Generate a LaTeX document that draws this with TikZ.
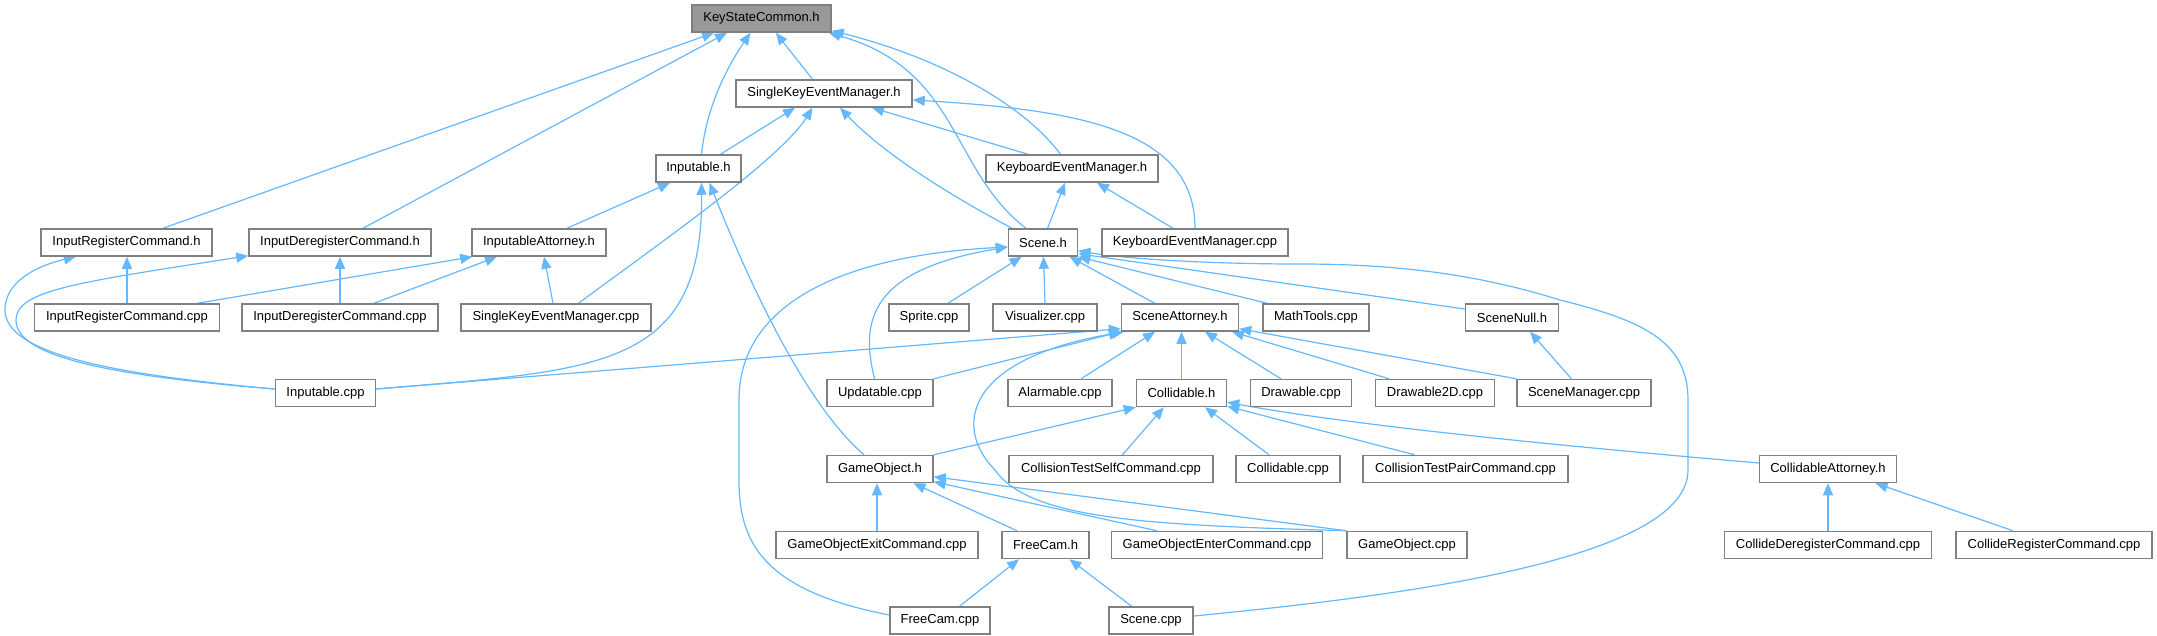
\documentclass[tikz,border=0pt]{standalone}
\usepackage{fontspec}
\newfontfamily\nf{Liberation Sans}
\usetikzlibrary{arrows.meta}
\pgfdeclarelayer{bg}
\pgfsetlayers{bg,main}
\definecolor{edgec}{HTML}{63B8FF}
\definecolor{boxc}{HTML}{808080}
\definecolor{rootc}{HTML}{999999}
\begin{document}
\begin{tikzpicture}[x=1pt,y=-1pt,
 box/.style={draw=boxc,line width=1.5pt,fill=white,minimum height=27pt,inner sep=0pt,font=\nf\fontsize{13}{13}\selectfont,text=black},
 root/.style={box,fill=rootc},
 e/.style={draw=edgec,line width=1.2pt,-{Triangle[length=12pt,width=10pt]}}]
\useasboundingbox (0,0) rectangle (2157,635);
% row 1
\node[root,minimum width=139pt] (ksc) at (761.5,18.5) {KeyStateCommon.h};
% row 2
\node[box,minimum width=176pt] (skemh) at (824,93.5) {SingleKeyEventManager.h};
% row 3
\node[box,minimum width=85pt] (inph) at (698.5,168.5) {Inputable.h};
\node[box,minimum width=172pt] (kemh) at (1072,168.5) {KeyboardEventManager.h};
% row 4
\node[box,minimum width=171pt] (irch) at (126.5,242.5) {InputRegisterCommand.h};
\node[box,minimum width=182pt] (idch) at (340,242.5) {InputDeregisterCommand.h};
\node[box,minimum width=134pt] (iah) at (539,242.5) {InputableAttorney.h};
\node[box,minimum width=69pt] (sceneh) at (1043,242.5) {Scene.h};
\node[box,minimum width=186pt] (kemcpp) at (1195,242.5) {KeyboardEventManager.cpp};
% row 5
\node[box,minimum width=185pt] (irccpp) at (127,317.5) {InputRegisterCommand.cpp};
\node[box,minimum width=196pt] (idccpp) at (340,317.5) {InputDeregisterCommand.cpp};
\node[box,minimum width=190pt] (skemcpp) at (556,317.5) {SingleKeyEventManager.cpp};
\node[box,minimum width=80pt] (sprite) at (929,317.5) {Sprite.cpp};
\node[box,minimum width=104pt] (visual) at (1045,317.5) {Visualizer.cpp};
\node[box,minimum width=117pt] (sah) at (1180,317.5) {SceneAttorney.h};
\node[box,minimum width=106pt] (math) at (1316,317.5) {MathTools.cpp};
\node[box,minimum width=93pt] (snull) at (1512,317.5) {SceneNull.h};
% row 6
\node[box,minimum width=100pt] (inpcpp) at (325.5,393) {Inputable.cpp};
\node[box,minimum width=106pt] (upd) at (880,393) {Updatable.cpp};
\node[box,minimum width=104pt] (alarm) at (1060,393) {Alarmable.cpp};
\node[box,minimum width=90pt] (collh) at (1181.5,393) {Collidable.h};
\node[box,minimum width=101pt] (draw) at (1301,393) {Drawable.cpp};
\node[box,minimum width=119pt] (draw2d) at (1435,393) {Drawable2D.cpp};
\node[box,minimum width=134pt] (scmgr) at (1584,393) {SceneManager.cpp};
% row 7
\node[box,minimum width=106pt] (goh) at (880,469) {GameObject.h};
\node[box,minimum width=204pt] (ctself) at (1111,469) {CollisionTestSelfCommand.cpp};
\node[box,minimum width=104pt] (collcpp) at (1288,469) {Collidable.cpp};
\node[box,minimum width=205pt] (ctpair) at (1465.5,469) {CollisionTestPairCommand.cpp};
\node[box,minimum width=137pt] (colla) at (1828,469) {CollidableAttorney.h};
% row 8
\node[box,minimum width=202pt] (goexit) at (877,545) {GameObjectExitCommand.cpp};
\node[box,minimum width=87pt] (fch) at (1045.5,545) {FreeCam.h};
\node[box,minimum width=211pt] (goenter) at (1217,545) {GameObjectEnterCommand.cpp};
\node[box,minimum width=120pt] (gocpp) at (1407,545) {GameObject.cpp};
\node[box,minimum width=207pt] (cdereg) at (1828,545) {CollideDeregisterCommand.cpp};
\node[box,minimum width=196pt] (creg) at (2054,545) {CollideRegisterCommand.cpp};
% row 9
\node[box,minimum width=100pt] (fccpp) at (940,620.5) {FreeCam.cpp};
\node[box,minimum width=84pt] (scenecpp) at (1151,620.5) {Scene.cpp};

\begin{pgfonlayer}{bg}
% KeyStateCommon.h
\draw[e] ([xshift=36.5]irch.north) -- ([xshift=-47.5]ksc.south);
\draw[e] ([xshift=23]idch.north) -- ([xshift=-34.5]ksc.south);
\draw[e] ([xshift=3]inph.north) .. controls (706,110) and (725,70) .. ([xshift=-11]ksc.south);
\draw[e] ([xshift=-11.5]skemh.north) -- ([xshift=14.3]ksc.south);
\draw[e] ([xshift=-17]sceneh.north) .. controls (950,170) and (960,70) .. ([xshift=-3]ksc.south east);
\draw[e] ([xshift=-11.5]kemh.north) .. controls (1020,100) and (930,55) .. ([yshift=2]ksc.south east);
% SingleKeyEventManager.h
\draw[e] ([xshift=22]inph.north) -- ([xshift=-29]skemh.south);
\draw[e] ([xshift=22.6]skemcpp.north) .. controls (650,250) and (780,160) .. ([xshift=-11.5]skemh.south);
\draw[e] ([xshift=-31]sceneh.north) .. controls (940,190) and (880,150) .. ([xshift=16]skemh.south);
\draw[e] ([xshift=-44]kemh.north) -- ([xshift=48]skemh.south);
\draw[e] (kemcpp.north) .. controls (1195,130) and (1080,110) .. ([yshift=-6.5]skemh.east);
% Inputable.h
\draw[e] ([xshift=28]iah.north) -- ([xshift=-28.5]inph.south);
\draw[e] ([yshift=4]inpcpp.east) .. controls (600,370) and (703,370) .. ([xshift=3]inph.south);
\draw[e] ([xshift=-16]goh.north) .. controls (800,400) and (740,260) .. ([xshift=11]inph.south);
% InputRegisterCommand.h
\draw[e] (irccpp.north) -- (irccpp.north |- irch.south);
\draw[e] ([yshift=4]inpcpp.west) .. controls (120,375) and (5,355) .. (5,310) .. controls (5,280) and (40,265) .. ([xshift=-50.7]irch.south);
% InputDeregisterCommand.h
\draw[e] (idccpp.north) -- (idccpp.north |- idch.south);
\draw[e] ([yshift=4]inpcpp.west) .. controls (100,375) and (16,355) .. (16,320) .. controls (16,290) and (80,282) .. ([yshift=1]idch.south west);
% InputableAttorney.h
\draw[e] ([xshift=70.5]irccpp.north) -- ([xshift=1]iah.south west);
\draw[e] ([xshift=34]idccpp.north) -- ([xshift=-42]iah.south);
\draw[e] ([xshift=-3]skemcpp.north) -- ([xshift=5]iah.south);
% KeyboardEventManager.h
\draw[e] ([xshift=4.6]sceneh.north) -- ([xshift=-7]kemh.south);
\draw[e] ([xshift=-22]kemcpp.north) -- ([xshift=25]kemh.south);
% Scene.h
\draw[e] ([xshift=19]sprite.north) -- ([xshift=-21.5]sceneh.south);
\draw[e] (visual.north) -- ([xshift=0.5]sceneh.south);
\draw[e] ([xshift=-25.4]sah.north) -- ([xshift=26.7]sceneh.south);
\draw[e] ([xshift=-49]math.north) -- (sceneh.south east);
\draw[e] ([yshift=8.5]snull.west) -- ([yshift=3]sceneh.south east);
\draw[e] ([yshift=4.5]scenecpp.east) .. controls (1400,596) and (1688,560) .. (1688,470) -- (1688,400) .. controls (1688,340) and (1640,320) .. (1560,300) .. controls (1480,275) and (1400,264) .. (1300,264) .. controls (1200,264) and (1120,258) .. ([yshift=6]sceneh.south east);
\draw[e] ([yshift=5.5]fccpp.west) .. controls (760,590) and (739,540) .. (739,480) -- (739,400) .. controls (739,300) and (850,255) .. ([yshift=-4.5]sceneh.west);
\draw[e] ([xshift=-5.5]upd.north) .. controls (860,320) and (870,270) .. ([yshift=-4.5]sceneh.west);
% SceneAttorney.h
\draw[e] ([yshift=4]inpcpp.east) -- ([yshift=3]sah.south west);
\draw[e] (upd.north east) -- (sah.south west);
\draw[e] ([xshift=21]alarm.north) -- ([xshift=-25]sah.south);
\draw[e] (collh.north) -- (collh.north |- sah.south);
\draw[e] ([xshift=-20]draw.north) -- ([xshift=25]sah.south);
\draw[e] ([xshift=-46]draw2d.north) -- ([xshift=52]sah.south);
\draw[e] (scmgr.north west) -- ([yshift=3]sah.south east);
\draw[e] (gocpp.north west) .. controls (1150,525) and (1030,520) .. (995,470) .. controls (955,430) and (960,360) .. ([xshift=3]sah.south west);
% GameObject.h
\draw[e] (goexit.north) -- (goexit.north |- goh.south);
\draw[e] ([xshift=-28.5]fch.north) -- ([xshift=33.5]goh.south);
\draw[e] ([xshift=-60]goenter.north) -- ([yshift=1.5]goh.south east);
\draw[e] (gocpp.north west) -- ([yshift=6.5]goh.south east);
% Collidable.h
\draw[e] (goh.north east) -- (collh.south west);
\draw[e] ([xshift=11.5]ctself.north) -- ([xshift=-17.7]collh.south);
\draw[e] ([xshift=-19]collcpp.north) -- ([xshift=23.5]collh.south);
\draw[e] ([xshift=-51]ctpair.north) -- ([yshift=1]collh.south east);
\draw[e] ([yshift=6]colla.west) .. controls (1550,445) and (1350,425) .. ([yshift=5]collh.south east);
% CollidableAttorney.h
\draw[e] (cdereg.north) -- (cdereg.north |- colla.south);
\draw[e] ([xshift=-41]creg.north) -- ([xshift=47.6]colla.south);
% FreeCam.h
\draw[e] ([xshift=19.5]fccpp.north) -- ([xshift=-26.5]fch.south);
\draw[e] ([xshift=-19.4]scenecpp.north) -- ([xshift=24]fch.south);
% SceneNull.h
\draw[e] ([xshift=-12.6]scmgr.north) -- ([xshift=18]snull.south);
\end{pgfonlayer}
\end{tikzpicture}
\end{document}
